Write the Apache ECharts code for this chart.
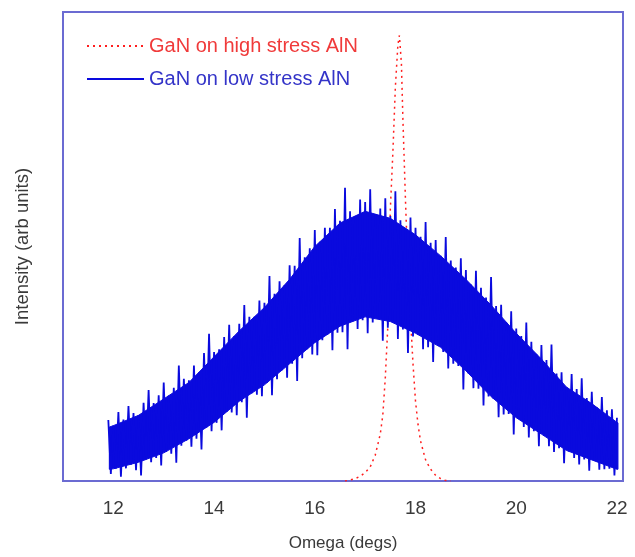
<!DOCTYPE html>
<html>
<head>
<meta charset="utf-8">
<script src="https://cdn.jsdelivr.net/npm/echarts@6/dist/echarts.min.js"></script>
<style>html,body{margin:0;padding:0;background:#fff;}#c{width:635px;height:557px;}</style>
</head>
<body>
<div id="c"></div>
<script>
// x tick labels
var xTicks = [12, 14, 16, 18, 20, 22];

// GaN on high stress AlN (red dotted peak): omega (degs) and intensity
var redX = [16.6, 16.7, 16.8, 16.9, 17.0, 17.1, 17.2, 17.3, 17.35, 17.4, 17.45, 17.5, 17.55, 17.6, 17.65, 17.68, 17.72, 17.75, 17.8, 17.85, 17.9, 17.95, 18.0, 18.05, 18.1, 18.2, 18.3, 18.4, 18.5, 18.6, 18.7];
var redY = [0, 0.2, 0.5, 1.0, 1.8, 3.0, 5.5, 10, 14, 22, 33, 58, 70, 84, 93, 95, 89, 77, 60, 45, 35, 25, 17, 12, 8.5, 4.5, 2.5, 1.2, 0.5, 0.1, 0];

// GaN on low stress AlN: solid core of the noisy trace (top / bottom edges)
var bandX = [11.92, 12.0, 12.5, 13.0, 13.5, 14.0, 14.5, 15.0, 15.5, 16.0, 16.5, 17.0, 17.5, 18.0, 18.5, 19.0, 19.5, 20.0, 20.5, 21.0, 21.5, 22.0, 22.02];
var bandTop = [11.5, 11.8, 14, 17.5, 21, 26.5, 32, 37, 43, 50, 55, 57.5, 56, 52.5, 48, 43, 37.5, 31.5, 26, 20, 16.5, 12.5, 12.4];
var bandBottom = [2.5, 2.6, 4.0, 6.0, 9.0, 12.5, 17, 20.5, 25, 29.5, 33, 35, 34, 31.5, 28.5, 23.5, 18, 13.5, 10, 6.5, 4.5, 2.5, 2.5];

// GaN on low stress AlN: noise maxima read at 11.9 + 0.1*i, minima at 11.95 + 0.1*i
var blueStart = 11.9;
var blueStep = 0.1;
var bluePeaks = [13, 11.8, 14.7, 13.1, 16, 14.5, 14, 16.7, 19.4, 16.6,
  18.3, 21, 18.2, 19.9, 24.6, 21.8, 21.5, 24.6, 23.2, 27.3,
  31.4, 27.5, 28.1, 30.7, 33.3, 30.9, 33.5, 37.5, 35, 35,
  38.5, 38, 43.7, 39.9, 42.6, 41.8, 46, 45.9, 51.8, 47.7,
  49.6, 53.5, 51, 54, 54, 58, 55.5, 62.5, 57.5, 56.5,
  60, 59.5, 62.2, 56.9, 58.1, 60.3, 56.5, 61.8, 55.6, 53.9,
  56.2, 54, 52.1, 55.2, 50.8, 51.4, 48, 52, 47, 45.5,
  47.5, 45, 41.9, 44.8, 41.2, 39.1, 43.5, 37.3, 37.6, 33.9,
  36.2, 32.5, 30.9, 33.8, 29.7, 27.1, 29, 25.8, 29.1, 22.9,
  23.2, 20, 22.8, 19.6, 21.9, 17.7, 19, 15.7, 17.9, 15.1,
  15.3, 13.5];
var blueTroughs = [1.5, 2.6, 0.9, 2.7, 3.5, 2.3, 1.2, 4.6, 4.0, 4.9,
  3.3, 6.2, 5.8, 3.9, 7.5, 8.6, 7.3, 9, 6.7, 11.4,
  10.6, 12.4, 10.8, 14.7, 14.6, 14, 16.8, 13.5, 18.7, 18.4,
  18.1, 20.9, 18.3, 21.7, 23.6, 22, 25, 21.3, 26.2, 28.1,
  27, 26.8, 30, 31.2, 27.9, 31.6, 31.7, 28.1, 34, 32.4,
  34.3, 31.5, 33.8, 34.6, 29.9, 32.7, 33.8, 30.3, 32.3, 27.3,
  30.8, 31.2, 28.1, 28.5, 25.4, 28.8, 27.5, 24, 25, 24.5,
  19.5, 22.9, 19.8, 19.7, 16.1, 18, 17.5, 13.6, 14.2, 14.3,
  9.9, 13.2, 11.5, 9.3, 10.6, 7.4, 9.6, 7.4, 6.2, 7,
  3.8, 6.3, 4.9, 3.5, 4.6, 2.2, 4.3, 2.4, 2.5, 2.6,
  1.2];

var redData = redX.map(function (x, i) { return [x, redY[i]]; });
var blueData = [];
for (var i = 0; i < bluePeaks.length; i++) {
  var xp = +(blueStart + blueStep * i).toFixed(3);
  blueData.push([xp, bluePeaks[i]]);
  if (i < blueTroughs.length) blueData.push([+(xp + blueStep / 2).toFixed(3), blueTroughs[i]]);
}

var BLUE = '#0a0ade';
var chart = echarts.init(document.getElementById('c'), null, {renderer: 'canvas'});
chart.setOption({
  animation: false,
  backgroundColor: '#ffffff',
  textStyle: {fontFamily: 'Liberation Sans, Arial, sans-serif'},
  grid: {left: 63, right: 12, top: 12, bottom: 72, show: true, borderColor: '#6b6bd2', borderWidth: 2, backgroundColor: 'transparent'},
  legend: {
    orient: 'vertical', left: 81, top: 31, itemWidth: 57, itemHeight: 20, itemGap: 13,
    itemStyle: {opacity: 0},
    textStyle: {fontSize: 20, lineHeight: 20, fontFamily: 'Liberation Sans, Arial, sans-serif'},
    data: [
      {name: 'GaN on high stress AlN', textStyle: {color: '#f03a3a'}},
      {name: 'GaN on low stress AlN', textStyle: {color: '#3434c8'}}
    ]
  },
  xAxis: {
    type: 'value', min: 11, max: 22.12,
    name: 'Omega (degs)', nameLocation: 'middle', nameGap: 54,
    nameTextStyle: {fontSize: 17, color: '#3a3a3a'},
    axisLine: {show: false}, axisTick: {show: false}, splitLine: {show: false},
    axisLabel: {customValues: xTicks, fontSize: 19, color: '#3a3a3a', margin: 18}
  },
  yAxis: {
    type: 'value', min: 0, max: 100,
    name: 'Intensity (arb units)', nameLocation: 'middle', nameGap: 31,
    nameTextStyle: {fontSize: 18.5, color: '#3a3a3a'},
    axisLine: {show: false}, axisTick: {show: false}, splitLine: {show: false}, axisLabel: {show: false}
  },
  series: [
    {
      name: 'GaN on high stress AlN', type: 'line', data: redData, showSymbol: false, symbol: 'none',
      lineStyle: {color: '#ff1e1e', width: 1.5, type: [2, 4]}, itemStyle: {color: '#ff1e1e'}, z: 2
    },
    {
      name: 'band', type: 'custom', coordinateSystem: 'cartesian2d', data: [[12, 0]], silent: true, z: 3,
      renderItem: function (params, api) {
        var pts = [];
        for (var k = 0; k < bandX.length; k++) pts.push(api.coord([bandX[k], bandTop[k]]));
        for (var m = bandX.length - 1; m >= 0; m--) pts.push(api.coord([bandX[m], bandBottom[m]]));
        return {type: 'polygon', shape: {points: pts}, style: {fill: BLUE, stroke: BLUE, lineWidth: 1}};
      }
    },
    {
      name: 'GaN on low stress AlN', type: 'line', data: blueData, showSymbol: false, symbol: 'none', sampling: null,
      lineStyle: {color: BLUE, width: 1.8}, itemStyle: {color: BLUE}, z: 4
    }
  ]
});
</script>
</body>
</html>
